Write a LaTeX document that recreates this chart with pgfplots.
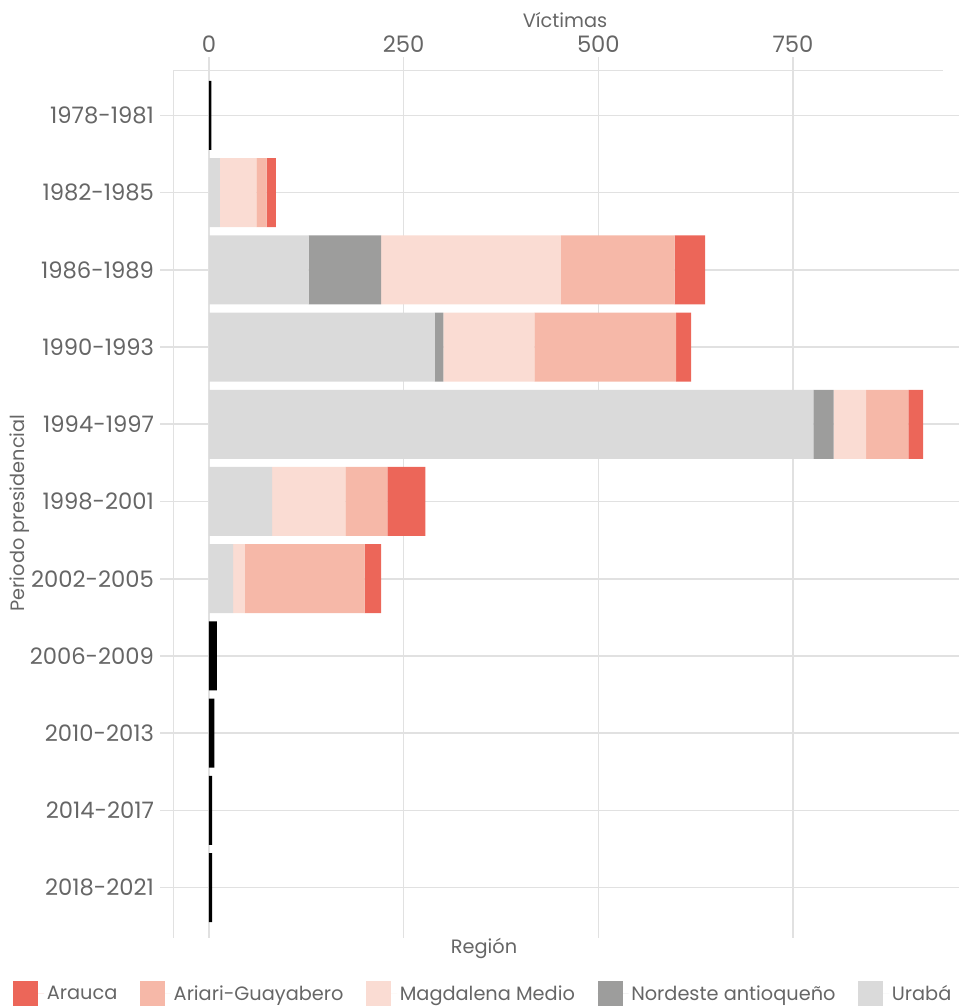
\documentclass[border=0pt]{standalone}
\usepackage{fontspec}
\setmainfont{Poppins}
\usepackage{pgfplots}
\pgfplotsset{compat=1.18}
\definecolor{cArauca}{HTML}{EC6659}
\definecolor{cAriari}{HTML}{F6B8A8}
\definecolor{cMagdalena}{HTML}{FADCD3}
\definecolor{cNordeste}{HTML}{9D9D9C}
\definecolor{cUraba}{HTML}{DADADA}
\definecolor{gridc}{HTML}{E1E1E1}
\definecolor{textc}{HTML}{666666}
\newcommand{\lblfont}{\fontsize{14.5}{17}\selectfont}
\newcommand{\tickfont}{\fontsize{17}{20}\selectfont}
\begin{document}
\begin{tikzpicture}
\useasboundingbox (0,0) rectangle (719.25pt,755.25pt);
\begin{axis}[
  at={(129.75pt,51.75pt)}, anchor=south west,
  scale only axis, width=589.5pt, height=651pt,
  xbar stacked, bar width=51.75pt, bar shift=0pt,
  xmin=-46.2, xmax=963.1, ymin=-0.589, ymax=10.654, y dir=reverse,
  ytick={0,...,10},
  yticklabels={1978-1981,1982-1985,1986-1989,1990-1993,1994-1997,1998-2001,2002-2005,2006-2009,2010-2013,2014-2017,2018-2021},
  xtick={0,250,500,750},
  xtick pos=upper, xticklabel pos=upper, ytick pos=left,
  tick align=outside,
  major tick length=9.75pt,
  tick style={draw=gridc, line width=1.2pt},
  grid=major, major grid style={draw=gridc, line width=1.2pt},
  axis line style={draw=none},
  /pgf/number format/assume math mode=true,
  tick label style={font=\tickfont, text=textc},
  yticklabel style={xshift=-1pt},
  /pgf/number format/.cd, 1000 sep={}, /pgfplots/.cd,
  reverse legend,
  legend columns=5,
  legend style={at={(-0.2036,-0.0645)}, anchor=west, draw=none, fill=none,
    inner sep=0pt, font=\lblfont, text=textc,
    /tikz/every even column/.append style={column sep=15pt}},
  legend image code/.code={\fill[#1] (0pt,-9.375pt) rectangle (18.75pt,9.375pt); \path (0pt,0pt) -- (23.25pt,0pt);},
]
\addplot[fill=black, draw=none, forget plot] coordinates {(3,0) (0,1) (0,2) (0,3) (0,4) (0,5) (0,6) (10,7) (7,8) (4,9) (4,10)};
\addplot[fill=cUraba, draw=none] coordinates {(0,0) (14,1) (128,2) (290,3) (776,4) (81,5) (31,6) (0,7) (0,8) (0,9) (0,10)};
\addplot[fill=cNordeste, draw=none] coordinates {(0,0) (0,1) (93,2) (11,3) (26,4) (0,5) (0,6) (0,7) (0,8) (0,9) (0,10)};
\addplot[fill=cMagdalena, draw=none] coordinates {(0,0) (47,1) (231,2) (117,3) (42,4) (94,5) (15,6) (0,7) (0,8) (0,9) (0,10)};
\addplot[fill=cAriari, draw=none] coordinates {(0,0) (13,1) (146,2) (182,3) (54,4) (54,5) (154,6) (0,7) (0,8) (0,9) (0,10)};
\addplot[fill=cArauca, draw=none] coordinates {(0,0) (12,1) (39,2) (19,3) (19,4) (49,5) (21,6) (0,7) (0,8) (0,9) (0,10)};
\legend{Urabá,Nordeste antioqueño,Magdalena Medio,Ariari-Guayabero,Arauca}
\draw[gridc, line width=1.2pt] (axis description cs:0,0) -- (axis description cs:0,1);
\draw[gridc, line width=1.2pt] (axis description cs:-0.004,1) -- (axis description cs:0.9796,1);
\end{axis}
\node[font=\lblfont, text=textc] at (423.75pt,740.25pt) {Víctimas};
\node[font=\lblfont, text=textc] at (363pt,44.25pt) {Región};
\node[font=\lblfont, text=textc, rotate=90] at (14.5pt,370.5pt) {Periodo presidencial};
\end{tikzpicture}
\end{document}
